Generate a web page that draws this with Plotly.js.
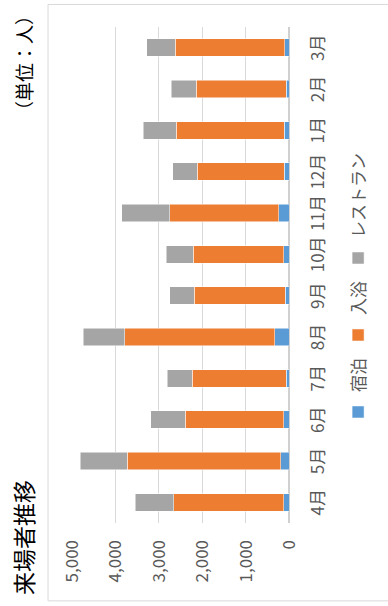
<!DOCTYPE html>
<html>
<head>
<meta charset="utf-8">
<script src="https://cdn.plot.ly/plotly-3.0.1.min.js"></script>
<style>
  html, body { margin: 0; padding: 0; background: #fff; overflow: hidden; }
  body { width: 388px; height: 606px; position: relative; }
  /* chart is laid out landscape, then turned a quarter turn counter-clockwise */
  #chart {
    position: absolute; left: 0; top: 0;
    width: 606px; height: 388px;
    transform-origin: 0 0;
    transform: translateY(606px) rotate(-90deg);
  }
</style>
</head>
<body>
<div id="chart"></div>
<script>
// 来場者数（月別・人）
const months = ['4月', '5月', '6月', '7月', '8月', '9月', '10月', '11月', '12月', '1月', '2月', '3月'];
const stay = [123, 191, 123, 68, 328, 91, 123, 237, 114, 114, 61, 100];
const bath = [2528, 3531, 2262, 2164, 3453, 2089, 2087, 2512, 2004, 2483, 2080, 2520];
const restaurant = [896, 1084, 804, 579, 957, 569, 624, 1101, 563, 767, 570, 660];

const seriesNames = ['宿泊', '入浴', 'レストラン'];
const seriesColors = ['#5B9BD5', '#ED7D31', '#A5A5A5'];
const valueTicks = [0, 1000, 2000, 3000, 4000, 5000];

const FONT = '"Noto Sans CJK JP", "Noto Sans", sans-serif';
const GREY_TEXT = '#595959';

const traces = [stay, bath, restaurant].map((vals, i) => ({
  type: 'bar',
  x: months,
  y: vals,
  name: seriesNames[i],
  marker: { color: seriesColors[i], line: { color: '#ffffff', width: 0.5 } },
  hoverinfo: 'skip'
}));

const layout = {
  width: 606,
  height: 388,
  margin: { l: 83, r: 27, t: 72, b: 96, pad: 0 },
  paper_bgcolor: '#ffffff',
  plot_bgcolor: '#ffffff',
  barmode: 'stack',
  bargap: 0.58,
  font: { family: FONT, size: 17, color: GREY_TEXT },
  xaxis: {
    type: 'category',
    categoryorder: 'array',
    categoryarray: months,
    showgrid: false,
    showline: false,
    zeroline: false,
    ticks: '',
    ticklabelstandoff: 17,
    tickfont: { family: FONT, size: 17, color: GREY_TEXT }
  },
  yaxis: {
    range: [0, 5000],
    tickvals: valueTicks,
    tickformat: ',d',
    showgrid: true,
    gridcolor: '#D9D9D9',
    gridwidth: 1,
    zeroline: true,
    zerolinecolor: '#D0D0D0',
    zerolinewidth: 1.3,
    showline: false,
    ticks: '',
    ticklabelstandoff: 16,
    tickfont: { family: FONT, size: 17, color: GREY_TEXT },
    fixedrange: true
  },
  showlegend: true,
  legend: {
    orientation: 'h',
    traceorder: 'normal',
    x: 0.1835,
    xanchor: 'left',
    y: -0.3205,
    yanchor: 'middle',
    entrywidth: 32,
    font: { family: FONT, size: 17, color: GREY_TEXT },
    bgcolor: 'rgba(0,0,0,0)'
  },
  shapes: [{
    type: 'rect', xref: 'paper', yref: 'paper',
    x0: -0.157, x1: 1.0454, y0: -0.47, y1: 1.1105,
    line: { color: '#D9D9D9', width: 1 },
    fillcolor: 'rgba(0,0,0,0)',
    layer: 'below'
  }],
  annotations: [
    {
      text: '来場者推移',
      xref: 'paper', yref: 'paper',
      x: -0.149, y: 1.225,
      xanchor: 'left', yanchor: 'middle',
      showarrow: false,
      font: { family: FONT, size: 23, color: '#000000' }
    },
    {
      text: '（単位：人）',
      xref: 'paper', yref: 'paper',
      x: 1.046, y: 1.225,
      xanchor: 'right', yanchor: 'middle',
      showarrow: false,
      font: { family: FONT, size: 19, color: '#000000' }
    }
  ]
};

Plotly.newPlot('chart', traces, layout, { displayModeBar: false, staticPlot: true }).then(gd => {
  // fixed-width legend entries: let the longest label run past its slot
  gd.querySelectorAll('.legend .scrollbox').forEach(el => el.removeAttribute('clip-path'));
});
</script>
</body>
</html>
